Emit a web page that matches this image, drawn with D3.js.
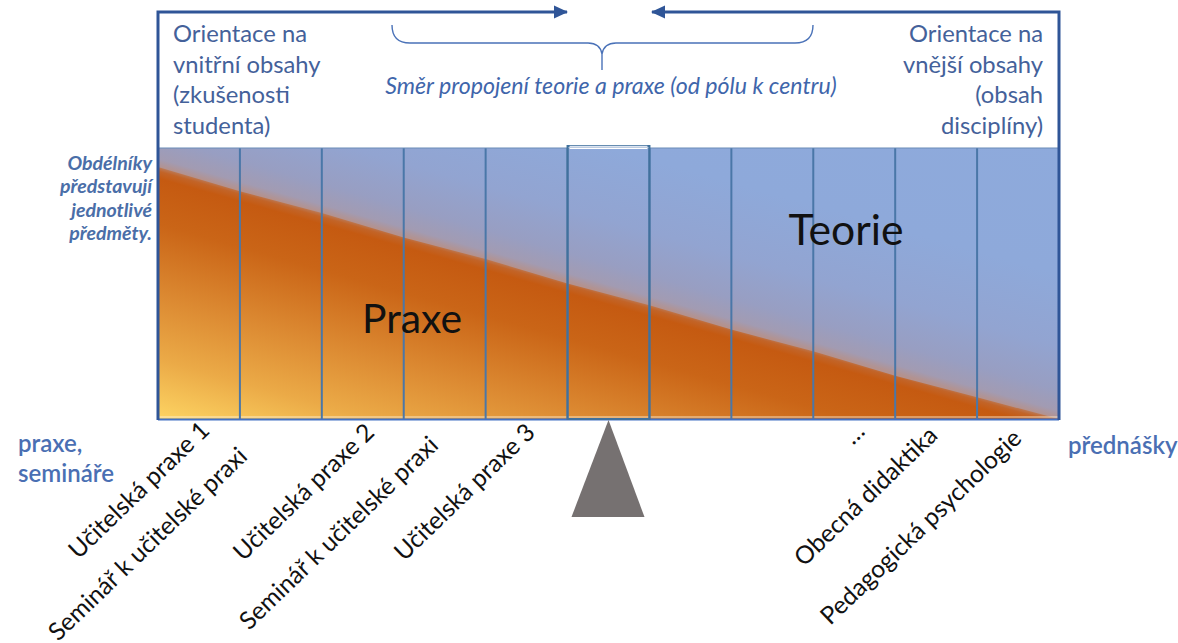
<!DOCTYPE html>
<html><head><meta charset="utf-8">
<script src="https://cdn.jsdelivr.net/npm/d3@7"></script>
<style>body{margin:0;background:#fff}svg{display:block}</style>
</head><body>
<svg id="c" width="1178" height="643"></svg>
<script>
// ---------- data ----------
const subjects = ["Učitelská praxe 1","Seminář k učitelské praxi","Učitelská praxe 2","Seminář k učitelské praxi","Učitelská praxe 3","","","","…","Obecná didaktika","Pedagogická psychologie"];
// share of "Praxe" (0..1 of the rectangle height) read at each column edge, left pole -> right pole
const praxeShare = [0.93,0.84,0.76,0.67,0.59,0.50,0.42,0.33,0.25,0.16,0.08,0.0];
const leftPoleLines = ["Orientace na","vnitřní obsahy","(zkušenosti","studenta)"];
const rightPoleLines = ["Orientace na","vnější obsahy","(obsah","disciplíny)"];
const noteLines = ["Obdélníky","představují","jednotlivé","předměty."];
const leftEndLines = ["praxe,","semináře"];
const rightEndLines = ["přednášky"];
const directionText = "Směr propojení teorie a praxe (od pólu k centru)";
const regionNames = ["Praxe","Teorie"];

// ---------- layout ----------
const bandL = 158, bandR = 1059, bandT = 148, bandB = 419, frameTop = 12;
const FONT = "Lato, 'Open Sans', 'Liberation Sans', sans-serif";
const labelAngle = -44;
const labelOffsets = [[12,432],[-32,458],[13,434],[-5,447],[10,434],[0,0],[0,0],[0,0],[12,433],[3,437],[5,440]];

const svg = d3.select("#c");
const x = d3.scaleLinear().domain([0, subjects.length]).range([bandL, bandR]);
const y = d3.scaleLinear().domain([0, 1]).range([bandB, bandT]);

function fit(sel, target){
  const w = sel.node().getComputedTextLength();
  const fs = parseFloat(sel.attr("font-size"));
  const nf = fs * target / w;
  sel.attr("font-size", nf);
  return nf;
}

const defs = svg.append("defs");
// gradient axis perpendicular to the praxe/teorie boundary
const n = praxeShare.length - 1;
const P0 = [x(0), y(praxeShare[0])], P1 = [x(n), y(praxeShare[n])];
const dl = Math.hypot(P1[0]-P0[0], P1[1]-P0[1]);
const dir = [(P1[0]-P0[0])/dl, (P1[1]-P0[1])/dl];
const nrm = [-dir[1], dir[0]]; // points into orange (down-left)
const tMin = -275, tMax = 250;
function grad(id, stops){
  const g = defs.append("linearGradient").attr("id", id).attr("gradientUnits","userSpaceOnUse")
    .attr("x1", P0[0]+nrm[0]*tMin).attr("y1", P0[1]+nrm[1]*tMin)
    .attr("x2", P0[0]+nrm[0]*tMax).attr("y2", P0[1]+nrm[1]*tMax);
  stops.forEach(([t,c]) => g.append("stop").attr("offset", (t-tMin)/(tMax-tMin)).attr("stop-color", c));
}
grad("blueG", [[-275,"#8eaadc"],[-140,"#8ea9da"],[-70,"#92a4d1"],[-28,"#989ec2"],[-8,"#a29bb2"],[0,"#b3928f"],[250,"#b3928f"]]);
grad("orangeG", [[-275,"#c55a11"],[0,"#bb7a57"],[4,"#c26428"],[11,"#c55a11"],[55,"#ca6517"],[125,"#dc8a32"],[185,"#ebaa47"],[250,"#ffd966"]]);

defs.append("clipPath").attr("id","bandClip").append("rect")
  .attr("x", bandL).attr("y", bandT).attr("width", bandR-bandL).attr("height", bandB-bandT);

const marker = defs.append("marker").attr("id","arr").attr("markerUnits","userSpaceOnUse")
  .attr("viewBox","0 -7 14 14").attr("refX",13).attr("refY",0)
  .attr("markerWidth",14).attr("markerHeight",14).attr("orient","auto");
marker.append("path").attr("d","M0,-6.5L14,0L0,6.5Z").attr("fill","#2f5597");

// ---------- band ----------
const band = svg.append("g").attr("clip-path","url(#bandClip)");
band.append("rect").attr("x", bandL).attr("y", bandT).attr("width", bandR-bandL).attr("height", bandB-bandT)
  .attr("fill","url(#blueG)");
const area = d3.area().x((d,i)=>x(i)).y0(y(0)+2).y1(d=>y(d));
band.append("path").datum(praxeShare).attr("d", area).attr("fill","url(#orangeG)");

// light line along the bottom
svg.append("line").attr("x1",bandL).attr("x2",bandR).attr("y1",bandB-2).attr("y2",bandB-2)
  .attr("stroke","#fff5e0").attr("stroke-width",1.2).attr("opacity",0.8);

// dividers
svg.append("g").selectAll("line").data(d3.range(1, subjects.length)).join("line")
  .attr("x1", d=>x(d)).attr("x2", d=>x(d)).attr("y1", bandT).attr("y2", bandB)
  .attr("stroke","#4a77a8").attr("stroke-width", 2);

// top edge of band
svg.append("line").attr("x1",bandL).attr("x2",bandR).attr("y1",bandT).attr("y2",bandT)
  .attr("stroke","#6a8cb8").attr("stroke-width",1.2);
// bottom edge
svg.append("line").attr("x1",bandL).attr("x2",bandR).attr("y1",bandB+0.5).attr("y2",bandB+0.5)
  .attr("stroke","#4472c4").attr("stroke-width",2);

// centre rectangle (slightly taller)
const cx0 = x(5), cx1 = x(6);
svg.append("rect").attr("x", cx0).attr("y", bandT-2).attr("width", cx1-cx0).attr("height", bandB-bandT+2)
  .attr("fill","none").attr("stroke","#41719c").attr("stroke-width",2);
svg.append("line").attr("x1",cx0+2).attr("x2",cx1-2).attr("y1",bandT-1.5).attr("y2",bandT-1.5)
  .attr("stroke","#d9e2f0").attr("stroke-width",1.5);
svg.append("line").attr("x1",cx0+2).attr("x2",cx1-2).attr("y1",bandT+0.5).attr("y2",bandT+0.5)
  .attr("stroke","#ffffff").attr("stroke-width",1.2);

// ---------- frame with arrows ----------
svg.append("path").attr("d", `M${bandL},${bandB+1}V${frameTop}H567`)
  .attr("fill","none").attr("stroke","#2f5597").attr("stroke-width",3).attr("marker-end","url(#arr)");
svg.append("path").attr("d", `M${bandR},${bandB+1}V${frameTop}H652`)
  .attr("fill","none").attr("stroke","#2f5597").attr("stroke-width",3).attr("marker-end","url(#arr)");

// brace
svg.append("path").attr("d","M392,25Q392,43 410,43L588,43Q600,43 602,54L602,70M602,54Q604,43 616,43L795,43Q813,43 813,25")
  .attr("fill","none").attr("stroke","#4a72b8").attr("stroke-width",1.4);

// fulcrum
const fx = x(5.5);
svg.append("path").attr("d", `M${fx},${bandB+1}L${fx+36},517L${fx-37},517Z`).attr("fill","#767171");

// ---------- texts ----------
const dt = svg.append("text").attr("x", 611).attr("y", 94).attr("text-anchor","middle")
  .attr("font-family",FONT).attr("font-style","italic").attr("font-size",16).attr("fill","#3f66ab").text(directionText);
fit(dt, 452);

function block(lines, xx, y0, dy, anchor, color, fitIdx, fitW, extra){
  const g = svg.append("g");
  const ts = g.selectAll("text").data(lines).join("text")
    .attr("x", xx).attr("y", (d,i)=>y0+i*dy).attr("text-anchor", anchor)
    .attr("font-family",FONT).attr("font-size",20).attr("fill",color).text(d=>d);
  if(extra) extra(ts);
  const fs = fit(d3.select(ts.nodes()[fitIdx]), fitW);
  ts.attr("font-size", fs);
  return fs;
}
block(leftPoleLines, 173, 42, 30.5, "start", "#44619a", 0, 134);
block(rightPoleLines, 1043, 42, 30.5, "end", "#44619a", 0, 134);
block(noteLines, 152, 170, 23.3, "end", "#4a6ea8", 1, 92, s=>s.attr("font-style","italic").attr("font-weight",700));
const endFs = block(leftEndLines, 18, 452, 30, "start", "#4a6fb3", 1, 96, s=>s.attr("font-weight",600));
svg.append("text").attr("x",1068).attr("y",454).attr("font-family",FONT).attr("font-weight",600)
  .attr("font-size",endFs).attr("fill","#4a6fb3").text(rightEndLines[0]);

const pr = svg.append("text").attr("x", 412).attr("y", 333).attr("text-anchor","middle")
  .attr("font-family",FONT).attr("font-size",40).attr("fill","#111").text(regionNames[0]);
fit(pr, 100);
const te = svg.append("text").attr("x", 846).attr("y", 245).attr("text-anchor","middle")
  .attr("font-family",FONT).attr("font-size",40).attr("fill","#111").text(regionNames[1]);
fit(te, 115);

// rotated subject labels
const lab = svg.append("g").selectAll("text").data(subjects.map((s,i)=>({s,i})).filter(d=>d.s)).join("text")
  .attr("text-anchor","end").attr("font-family",FONT).attr("font-size",20).attr("fill","#111")
  .attr("transform", d=>`translate(${x(d.i+0.5)+labelOffsets[d.i][0]},${labelOffsets[d.i][1]}) rotate(${labelAngle})`)
  .text(d=>d.s);
const lfs = fit(lab.filter(d=>d.i===10), 268);
lab.attr("font-size", lfs);
</script>
</body></html>
